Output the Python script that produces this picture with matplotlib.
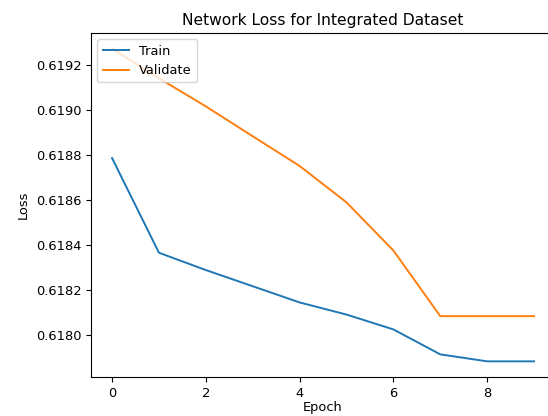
import matplotlib
matplotlib.use("Agg")
import matplotlib.pyplot as plt

# values
epochs = [0, 1, 2, 3, 4, 5, 6, 7, 8, 9]
train_loss = [0.618785, 0.618364, 0.618287, 0.618215, 0.618143,
              0.618089, 0.618023, 0.617912, 0.617881, 0.617881]
val_loss = [0.619272, 0.619140, 0.619015, 0.618882, 0.618750,
            0.618588, 0.618374, 0.618082, 0.618082, 0.618082]

plt.rcParams['font.size'] = 9.4

fig = plt.figure(figsize=(5.48, 4.16), dpi=100)
ax = fig.add_axes([0.166, 0.0938, 0.847, 0.827])

ax.plot(epochs, train_loss, color='#1f77b4', lw=1.4, label='Train')
ax.plot(epochs, val_loss, color='#ff7f0e', lw=1.4, label='Validate')

ax.set_title('Network Loss for Integrated Dataset', fontsize=11.2)
ax.set_xlabel('Epoch', labelpad=1)
ax.set_ylabel('Loss')
ax.ticklabel_format(axis='y', useOffset=False)
ax.set_yticks([0.6180, 0.6182, 0.6184, 0.6186, 0.6188, 0.6190, 0.6192])
ax.set_xticks([0, 2, 4, 6, 8])
ax.legend(loc='upper left', fontsize=9.4)

fig.savefig('out.png', dpi=100)
